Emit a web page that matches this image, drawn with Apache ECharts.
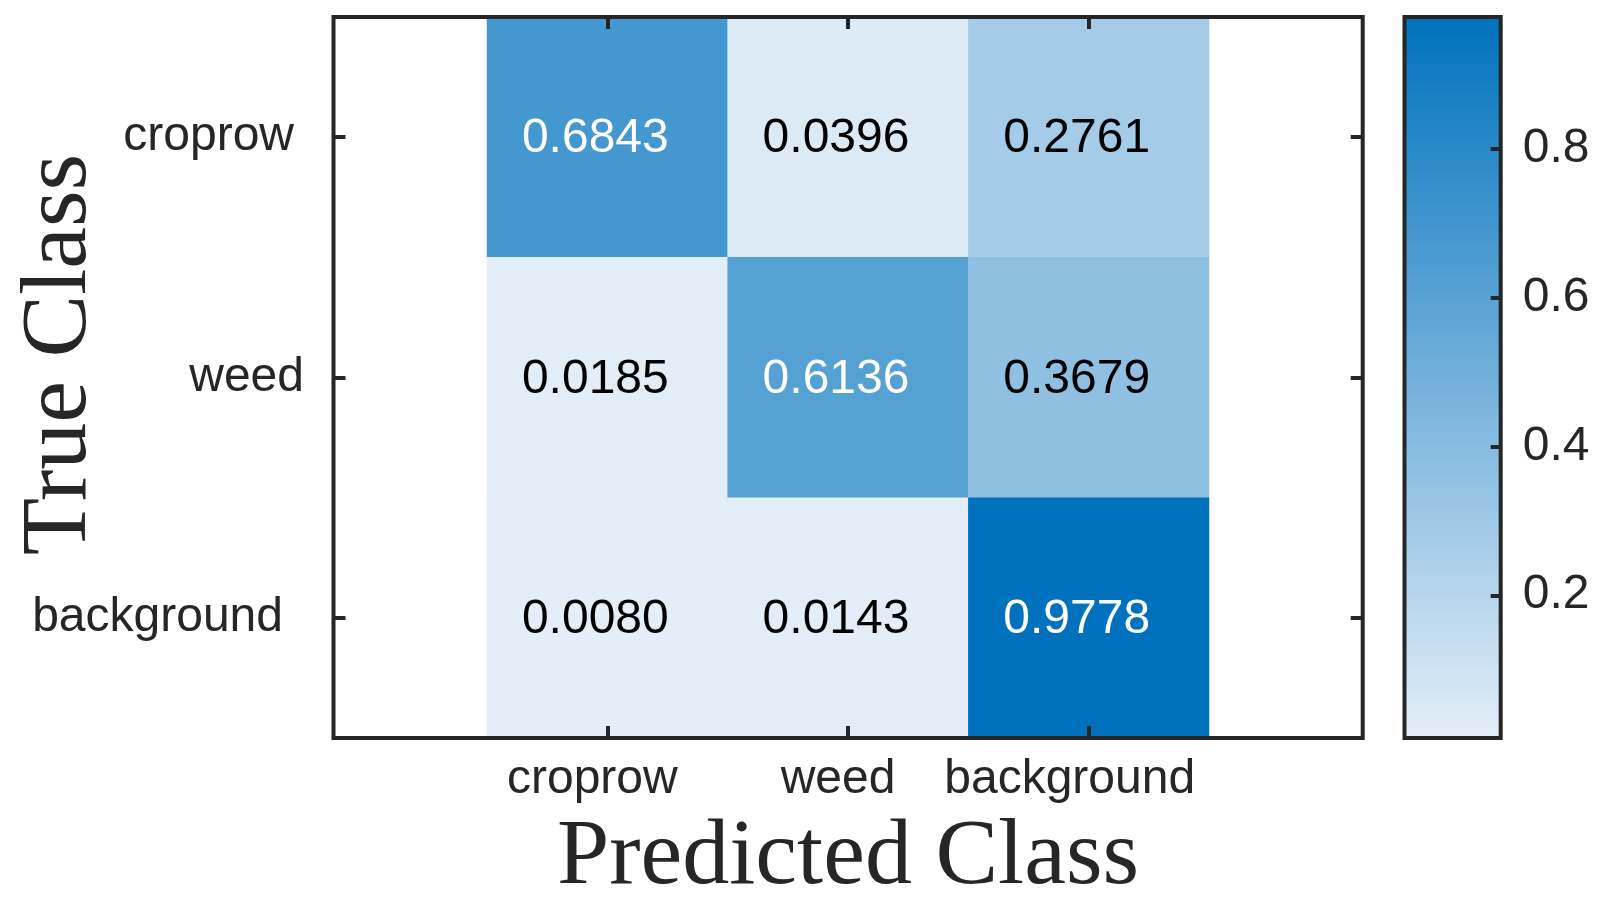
<!DOCTYPE html>
<html>
<head>
<meta charset="utf-8">
<script src="https://cdn.jsdelivr.net/npm/echarts@6/dist/echarts.min.js"></script>
<style>
html,body{margin:0;padding:0;background:#fff;}
#chart{width:1610px;height:906px;}
</style>
</head>
<body>
<div id="chart"></div>
<script>
// ---- data ----
const trueClasses = ['croprow', 'weed', 'background'];
const predClasses = ['croprow', 'weed', 'background'];
const rowCroprow = [0.6843, 0.0396, 0.2761];
const rowWeed = [0.0185, 0.6136, 0.3679];
const rowBackground = [0.0080, 0.0143, 0.9778];
const colorbarTicks = [0.2, 0.4, 0.6, 0.8];
const xTitle = 'Predicted Class';
const yTitle = 'True Class';

const rows = [rowCroprow, rowWeed, rowBackground];
const allVals = [].concat(...rows);
const vMin = Math.min(...allVals);
const vMax = Math.max(...allVals);

const heatData = [];
rows.forEach((row, r) => {
  row.forEach((v, c) => {
    heatData.push({
      value: [c, r, v],
      label: { color: v > 0.5 ? '#ffffff' : '#000000' }
    });
  });
});

const INK = '#262626';
const SANS = 'Liberation Sans, Arial, Helvetica, sans-serif';
const SERIF = 'Liberation Serif, Times New Roman, serif';

// frame / layout
const frameL = 333.5, frameT = 17, frameW = 1029.2, frameH = 721;
const cellL = 487, cellW = 722;
const cbL = 1404.5, cbW = 96.2;

const yLabelPad = { croprow: 10, weed: 0, background: 21 };
const xLabelPad = { croprow: 30, weed: 20, background: 38 };
const keyOf = s => s.replace(/[^a-z]/g, '');

const chart = echarts.init(document.getElementById('chart'), null, { renderer: 'canvas' });

const tickStyle = { color: INK, width: 4 };

const option = {
  animation: false,
  backgroundColor: '#ffffff',
  textStyle: { fontFamily: SANS },
  grid: [
    // 0: heatmap cells
    { left: cellL, top: frameT, width: cellW, height: frameH, containLabel: false, outerBoundsMode: 'none' },
    // 1: outer frame
    { left: frameL, top: frameT, width: frameW, height: frameH, show: true, outerBoundsMode: 'none',
      borderWidth: 4, borderColor: INK, backgroundColor: 'transparent', z: 10 },
    // 2: colorbar frame
    { left: cbL, top: frameT, width: cbW, height: frameH, show: true, outerBoundsMode: 'none',
      borderWidth: 4, borderColor: INK, backgroundColor: 'transparent', z: 10 }
  ],
  xAxis: [
    {
      gridIndex: 0, type: 'category', data: predClasses, position: 'bottom', z: 11,
      axisLine: { show: false, onZero: false },
      axisTick: { show: true, inside: true, length: 12, alignWithLabel: true, lineStyle: tickStyle },
      axisLabel: {
        interval: 0, hideOverlap: false,
        margin: 18, fontSize: 48, color: INK, fontFamily: SANS,
        formatter: v => '{' + keyOf(v) + '|' + v + '}',
        rich: Object.fromEntries(predClasses.map(k => [keyOf(k),
          { fontSize: 48, fontFamily: SANS, color: INK, padding: [0, xLabelPad[k], 0, 0] }]))
      },
      splitLine: { show: false },
      name: xTitle, nameLocation: 'middle', nameGap: 73, nameMoveOverlap: false,
      nameTextStyle: { fontFamily: SERIF, fontSize: 94, color: INK }
    },
    {
      gridIndex: 0, type: 'category', data: predClasses, position: 'top', z: 11,
      axisLine: { show: false, onZero: false },
      axisTick: { show: true, inside: true, length: 12, alignWithLabel: true, lineStyle: tickStyle },
      axisLabel: { show: false },
      splitLine: { show: false }
    },
    { gridIndex: 1, type: 'category', data: ['a'], show: false },
    { gridIndex: 2, type: 'category', data: ['a'], show: false }
  ],
  yAxis: [
    {
      gridIndex: 0, type: 'category', data: trueClasses, inverse: true, position: 'left',
      offset: cellL - frameL, z: 11,
      axisLine: { show: false, onZero: false },
      axisTick: { show: true, inside: true, length: 12, alignWithLabel: true, lineStyle: tickStyle },
      axisLabel: {
        interval: 0, hideOverlap: false,
        margin: 29.5, fontSize: 48, color: INK, fontFamily: SANS,
        formatter: v => '{' + keyOf(v) + '|' + v + '}',
        rich: Object.fromEntries(trueClasses.map(k => [keyOf(k),
          { fontSize: 48, fontFamily: SANS, color: INK, padding: [0, yLabelPad[k], 0, 0] }]))
      },
      splitLine: { show: false },
      name: yTitle, nameLocation: 'middle', nameGap: 226, nameMoveOverlap: false,
      nameTextStyle: { fontFamily: SERIF, fontSize: 94, color: INK, padding: [0, 0, 0, 46] }
    },
    {
      gridIndex: 0, type: 'category', data: trueClasses, inverse: true, position: 'right',
      offset: (frameL + frameW) - (cellL + cellW), z: 11,
      axisLine: { show: false, onZero: false },
      axisTick: { show: true, inside: true, length: 12, alignWithLabel: true, lineStyle: tickStyle },
      axisLabel: { show: false },
      splitLine: { show: false }
    },
    { gridIndex: 1, type: 'value', show: false, min: 0, max: 1 },
    {
      gridIndex: 2, type: 'value', position: 'right', min: vMin, max: vMax, z: 11,
      axisLine: { show: false, onZero: false },
      axisTick: { show: true, inside: true, length: 10, customValues: colorbarTicks, lineStyle: tickStyle },
      axisLabel: { show: true, margin: 22, fontSize: 48, color: INK, fontFamily: SANS,
        customValues: colorbarTicks, formatter: v => Number(v).toFixed(1) },
      splitLine: { show: false }
    }
  ],
  visualMap: {
    type: 'continuous',
    seriesIndex: 0,
    min: vMin, max: vMax,
    calculable: false,
    hoverLink: false,
    realtime: false,
    orient: 'vertical',
    left: cbL, top: frameT,
    itemWidth: cbW, itemHeight: frameH,
    padding: 0,
    text: null,
    inRange: { color: ['#e3eef8', '#0072bd'] },
    z: 4
  },
  series: [{
    type: 'heatmap',
    xAxisIndex: 0, yAxisIndex: 0,
    data: heatData,
    itemStyle: { borderWidth: 0 },
    label: {
      show: true, fontSize: 48, fontFamily: SANS, offset: [-12, 2],
      formatter: p => p.value[2].toFixed(4)
    },
    emphasis: { disabled: true }
  }]
};

chart.setOption(option);
</script>
</body>
</html>
